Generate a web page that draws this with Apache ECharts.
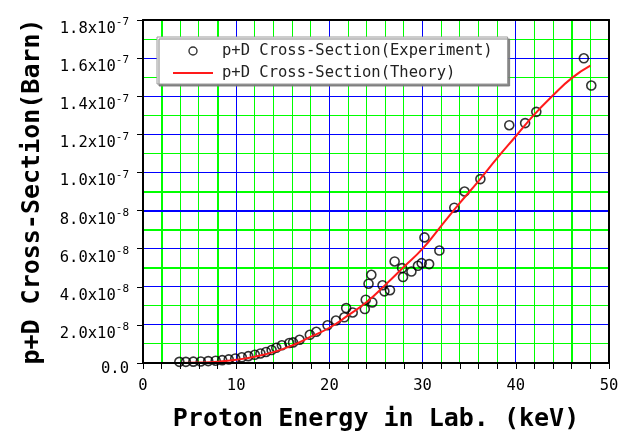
<!DOCTYPE html>
<html>
<head>
<meta charset="utf-8">
<script src="https://cdn.jsdelivr.net/npm/echarts@6/dist/echarts.min.js"></script>
<style>
  html, body { margin: 0; padding: 0; background: #ffffff; }
  #chart { width: 627px; height: 435px; }
</style>
</head>
<body>
<div id="chart"></div>
<script>
// Measured p+D points: proton energy (keV) and cross-section (in units of 1e-8 barn)
const expEnergy = [3.9, 4.6, 5.4, 6.2, 7.0, 7.8, 8.5, 9.2, 9.9, 10.6, 11.3, 12.0, 12.6, 13.2, 13.8,
                   14.3, 14.9, 15.7, 16.1, 16.8, 17.9, 18.6, 19.8, 20.7, 21.6, 21.8, 22.5, 23.8,
                   23.9, 24.2, 24.5, 24.6, 25.7, 25.9, 26.5, 27.0, 27.8, 27.9, 28.8, 29.5, 29.9,
                   30.2, 30.7, 31.8, 33.4, 34.5, 36.2, 39.3, 41.0, 42.2, 47.3, 48.1];
const expSigma  = [0.06, 0.06, 0.07, 0.08, 0.10, 0.12, 0.15, 0.19, 0.24, 0.30, 0.36, 0.43, 0.50, 0.58, 0.68,
                   0.80, 0.93, 1.05, 1.08, 1.22, 1.48, 1.64, 1.98, 2.23, 2.40, 2.88, 2.65, 2.83,
                   3.32, 4.16, 4.63, 3.18, 4.08, 3.76, 3.82, 5.33, 4.98, 4.51, 4.80, 5.10, 5.24,
                   6.59, 5.19, 5.90, 8.15, 9.00, 9.65, 12.48, 12.59, 13.18, 15.99, 14.56];

// Calculated curve: proton energy (keV) and cross-section (1e-8 barn)
const theoryEnergy = [4, 6, 8, 10, 12, 14, 16, 18, 20, 22, 24, 26, 28, 30, 32, 34, 36, 38, 40, 42, 44, 46, 48];
const theorySigma  = [0.0, 0.02, 0.07, 0.17, 0.33, 0.57, 0.92, 1.38, 1.85, 2.5, 3.2, 4.1, 5.05, 6.0,
                      7.2, 8.4, 9.55, 10.75, 11.9, 13.05, 14.05, 14.95, 15.6];

// Y tick labels, one per 2e-8 barn step: mantissa and power of ten
const yTickMantissa = ['0.0', '2.0', '4.0', '6.0', '8.0', '1.0', '1.2', '1.4', '1.6', '1.8'];
const yTickExponent = ['', '-8', '-8', '-8', '-8', '-7', '-7', '-7', '-7', '-7'];

const expName = 'p+D Cross-Section(Experiment)';
const theoryName = 'p+D Cross-Section(Theory)';

const monoBold = { fontFamily: 'DejaVu Sans Mono', fontWeight: 'bold', color: '#000' };
const tickFont = { fontFamily: 'DejaVu Sans Mono', fontSize: 15.5, color: '#000' };
const BLUE = '#0000ff';
const GREEN = '#00ff00';
const X_MAX = 50, Y_MAX = 18;

// Grid-line layout: minor lines green, major lines blue, a few drawn heavier
const X_MINOR = 2, X_MAJOR = 10, Y_MINOR = 1, Y_MAJOR = 2;
const heavyGreenX = [2, 8, 46];
const heavyGreenY = [5, 7, 9];
const heavyBlueY = [8];

// Grid lines as [orientation (0 = vertical, 1 = horizontal), value, heavy (0/1), major (0/1)]
function buildGridLines() {
  const lines = [];
  for (let k = 1; k * X_MINOR < X_MAX; k++) {
    const v = k * X_MINOR;
    lines.push([0, v, heavyGreenX.includes(v) ? 1 : 0, v % X_MAJOR === 0 ? 1 : 0]);
  }
  for (let k = 1; k * Y_MINOR < Y_MAX; k++) {
    const v = k * Y_MINOR;
    const major = v % Y_MAJOR === 0;
    const heavy = major ? heavyBlueY.includes(v) : heavyGreenY.includes(v);
    lines.push([1, v, heavy ? 1 : 0, major ? 1 : 0]);
  }
  // majors last so they sit above the minors
  return lines.sort((a, b) => a[3] - b[3]);
}

// Snap a coordinate so a line of the given width lands on whole pixels
function snap(c, w) {
  return w % 2 === 1 ? Math.floor(c) + 0.5 : Math.round(c);
}

function renderGridLine(params, api) {
  const vertical = api.value(0) === 0;
  const v = api.value(1);
  const w = api.value(2) ? 2 : 1;
  const color = api.value(3) ? BLUE : GREEN;
  let shape;
  if (vertical) {
    const a = api.coord([v, 0]), b = api.coord([v, Y_MAX]);
    const x = snap(a[0], w);
    shape = { x1: x, y1: a[1], x2: x, y2: b[1] };
  } else {
    const a = api.coord([0, v]), b = api.coord([X_MAX, v]);
    const y = snap(a[1], w);
    shape = { x1: a[0], y1: y, x2: b[0], y2: y };
  }
  return { type: 'line', shape: shape, style: { stroke: color, lineWidth: w }, silent: true };
}

// Frame axis (top / right): line only
function frameAxis(max, position) {
  return {
    type: 'value', min: 0, max: max, position: position, z: 6,
    axisLine: { show: true, onZero: false, lineStyle: { color: '#000', width: 2 } },
    axisTick: { show: false }, axisLabel: { show: false },
    splitLine: { show: false }, minorSplitLine: { show: false }
  };
}

const chart = echarts.init(document.getElementById('chart'), null, { renderer: 'canvas' });

chart.setOption({
  animation: false,
  backgroundColor: '#ffffff',
  grid: { left: 143, right: 18, top: 20, bottom: 72, containLabel: false, outerBoundsMode: 'none' },
  legend: {
    left: 157, top: 37,
    orient: 'vertical',
    itemWidth: 40, itemHeight: 8, itemGap: 6,
    padding: [6, 15, 3, 16],
    backgroundColor: '#ffffff',
    borderColor: '#9a9a9a', borderWidth: 1,
    shadowColor: 'rgba(120,120,120,0.9)', shadowOffsetX: 2, shadowOffsetY: 2, shadowBlur: 0,
    textStyle: { fontFamily: 'DejaVu Sans Mono', fontSize: 15.5, color: '#222', padding: [0, 0, 0, 4], lineHeight: 15 },
    data: [
      { name: expName, icon: 'circle', itemStyle: { color: 'rgba(0,0,0,0)', borderColor: '#000', borderWidth: 1.4 } },
      { name: theoryName, icon: 'path://M0,0L40,0L40,2L0,2Z', itemStyle: { color: '#ff1a1a' } }
    ]
  },
  xAxis: [
    {
      type: 'value', min: 0, max: X_MAX, interval: X_MAJOR, z: 5,
      name: 'Proton Energy in Lab. (keV)',
      nameLocation: 'middle', nameGap: 44,
      nameTextStyle: Object.assign({ fontSize: 25 }, monoBold),
      axisLine: { show: true, onZero: false, lineStyle: { color: '#000', width: 2 } },
      axisTick: { show: true, inside: false, length: 6, lineStyle: { color: '#000', width: 1 } },
      minorTick: { show: true, splitNumber: X_MAJOR / X_MINOR, length: 6, lineStyle: { color: '#000', width: 1 } },
      axisLabel: Object.assign({ margin: 15 }, tickFont),
      splitLine: { show: false }, minorSplitLine: { show: false }
    },
    frameAxis(X_MAX, 'top')
  ],
  yAxis: [
    {
      type: 'value', min: 0, max: Y_MAX, interval: Y_MAJOR, z: 5,
      name: 'p+D Cross-Section(Barn)',
      nameLocation: 'middle', nameGap: 98, nameRotate: 90,
      nameTextStyle: Object.assign({ fontSize: 25 }, monoBold),
      axisLine: { show: true, onZero: false, lineStyle: { color: '#000', width: 2 } },
      axisTick: { show: true, inside: false, length: 6, lineStyle: { color: '#000', width: 1 } },
      axisLabel: {
        margin: 14,
        padding: [14, 0, 0, 0],
        formatter: function (v) {
          const i = Math.round(v / Y_MAJOR);
          const m = yTickMantissa[i], e = yTickExponent[i];
          return e ? '{m|' + m + 'x10}{s|' + e + '}' : '{z|' + m + '}';
        },
        rich: {
          m: Object.assign({ lineHeight: 20, verticalAlign: 'bottom' }, tickFont),
          z: Object.assign({ lineHeight: 20, padding: [0, 0, 2, 0] }, tickFont),
          s: { fontFamily: 'DejaVu Sans Mono', fontSize: 11, color: '#000', lineHeight: 20, verticalAlign: 'top' }
        }
      },
      splitLine: { show: false }, minorSplitLine: { show: false }
    },
    frameAxis(Y_MAX, 'right')
  ],
  series: [
    {
      name: 'grid lines',
      type: 'custom',
      xAxisIndex: 0, yAxisIndex: 0,
      silent: true,
      z: 1,
      encode: { x: 1, y: 1 },
      renderItem: renderGridLine,
      data: buildGridLines()
    },
    {
      name: expName,
      type: 'scatter',
      symbol: 'circle',
      symbolSize: 9,
      itemStyle: { color: 'rgba(0,0,0,0)', borderColor: '#000', borderWidth: 1.6 },
      data: expEnergy.map((x, i) => [x, expSigma[i]]),
      z: 3
    },
    {
      name: theoryName,
      type: 'line',
      smooth: true,
      symbol: 'none',
      lineStyle: { color: '#ff1a1a', width: 2 },
      itemStyle: { color: '#ff1a1a' },
      data: theoryEnergy.map((x, i) => [x, theorySigma[i]]),
      z: 4
    }
  ]
});
</script>
</body>
</html>
